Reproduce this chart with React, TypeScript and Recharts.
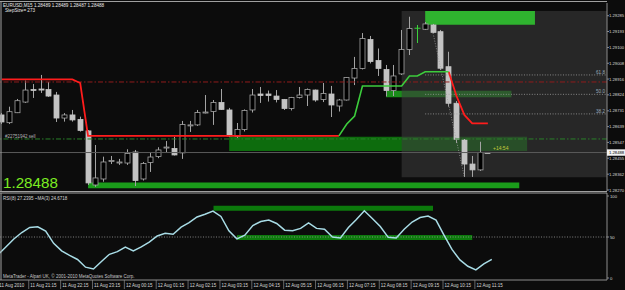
import React from 'react';
import {
  ComposedChart, Bar, Line, XAxis, YAxis, ReferenceArea, ReferenceLine,
} from 'recharts';

// EURUSD M15, one bar every 15 minutes from 11 Aug 20:15 to 12 Aug 11:45
const opens = [
  1.28707, 1.28662, 1.28720, 1.28782, 1.28855, 1.28858, 1.28855, 1.28823, 1.28689, 1.28707,
  1.28681, 1.28614, 1.28299, 1.28334, 1.28439, 1.28430, 1.28427, 1.28491, 1.28334, 1.28430,
  1.28465, 1.28518, 1.28512, 1.28486, 1.28646, 1.28649, 1.28721, 1.28727, 1.28780, 1.28736,
  1.28582, 1.28622, 1.28736, 1.28829, 1.28829, 1.28817, 1.28797, 1.28745, 1.28809, 1.28823,
  1.28852, 1.28797, 1.28829, 1.28759, 1.28794, 1.28922, 1.28978, 1.29146, 1.29024, 1.28972,
  1.28849, 1.28946, 1.29088, 1.29212, 1.29206, 1.29231, 1.29192, 1.28988, 1.28775, 1.28561,
  1.28421, 1.28387, 1.28489,
];
const highs = [
  1.28718, 1.28755, 1.28800, 1.28907, 1.28887, 1.28940, 1.28899, 1.28841, 1.28718, 1.28736,
  1.28697, 1.28619, 1.28532, 1.28464, 1.28468, 1.28451, 1.28507, 1.28503, 1.28433, 1.28486,
  1.28519, 1.28555, 1.28579, 1.28672, 1.28672, 1.28736, 1.28823, 1.28794, 1.28858, 1.28748,
  1.28660, 1.28739, 1.28858, 1.28870, 1.28849, 1.28852, 1.28800, 1.28812, 1.28870, 1.28861,
  1.28855, 1.28893, 1.28876, 1.28800, 1.28928, 1.29045, 1.29184, 1.29167, 1.29094, 1.28998,
  1.28998, 1.29202, 1.29279, 1.29231, 1.29248, 1.29237, 1.29202, 1.29075, 1.28788, 1.28567,
  1.28468, 1.28551, 1.28489,
];
const lows = [
  1.28654, 1.28654, 1.28718, 1.28777, 1.28806, 1.28835, 1.28812, 1.28666, 1.28668, 1.28668,
  1.28610, 1.28299, 1.28288, 1.28318, 1.28421, 1.28416, 1.28416, 1.28293, 1.28325, 1.28375,
  1.28455, 1.28491, 1.28471, 1.28451, 1.28608, 1.28643, 1.28716, 1.28649, 1.28736, 1.28579,
  1.28573, 1.28611, 1.28721, 1.28777, 1.28785, 1.28780, 1.28736, 1.28733, 1.28803, 1.28759,
  1.28784, 1.28782, 1.28695, 1.28727, 1.28791, 1.28881, 1.28972, 1.29007, 1.28934, 1.28815,
  1.28817, 1.28940, 1.29056, 1.29126, 1.29202, 1.29184, 1.28969, 1.28755, 1.28544, 1.28346,
  1.28346, 1.28381, 1.28487,
];
const closes = [
  1.28666, 1.28726, 1.28790, 1.28852, 1.28852, 1.28852, 1.28817, 1.28689, 1.28707, 1.28678,
  1.28617, 1.28311, 1.28340, 1.28433, 1.28442, 1.28433, 1.28483, 1.28325, 1.28424, 1.28462,
  1.28503, 1.28520, 1.28474, 1.28651, 1.28649, 1.28721, 1.28724, 1.28780, 1.28739, 1.28585,
  1.28622, 1.28733, 1.28823, 1.28820, 1.28820, 1.28797, 1.28745, 1.28809, 1.28823, 1.28855,
  1.28794, 1.28832, 1.28765, 1.28794, 1.28925, 1.28978, 1.29152, 1.29018, 1.28978, 1.28849,
  1.28934, 1.29088, 1.29210, 1.29212, 1.29237, 1.29188, 1.28979, 1.28775, 1.28565, 1.28421,
  1.28387, 1.28489, 1.28488,
];

// step indicator: red while falling, green while rising
const stepRed = [
  1.28914, 1.28914, 1.28914, 1.28914, 1.28914, 1.28914, 1.28914, 1.28914, 1.28914, 1.28914,
  1.28893, 1.28585, 1.28585, 1.28585, 1.28585, 1.28585, 1.28585, 1.28585, 1.28585, 1.28585,
  1.28585, 1.28585, 1.28585, 1.28585, 1.28585, 1.28585, 1.28585, 1.28585, 1.28585, 1.28585,
  1.28585, 1.28585, 1.28585, 1.28585, 1.28585, 1.28585, 1.28585, 1.28585, 1.28585, 1.28585,
  1.28585, 1.28585, 1.28585, 1.28585, null, null, null, null, null, null,
  null, null, null, null, null, null, null, 1.28959, 1.28817, 1.28707,
  1.28658, 1.28658, 1.28658,
];
const stepGreen = [
  null, null, null, null, null, null, null, null, null, null,
  null, null, null, null, null, null, null, null, null, null,
  null, null, null, null, null, null, null, null, null, null,
  null, null, null, null, null, null, null, null, null, null,
  null, null, null, 1.28585, 1.28654, 1.28701, 1.28876, 1.28876, 1.28876, 1.28876,
  1.28876, 1.28876, 1.28934, 1.28934, 1.28959, 1.28959, 1.28959, 1.28959, null, null,
  null, null, null,
];

const rsi = [
  28.2, 37.8, 47.6, 55.5, 61.6, 62.4, 57.3, 42.3, 33.2, 27.6,
  22.6, 13.2, 11.0, 20.2, 28.9, 32.2, 37.8, 32.9, 37.9, 43.7,
  51.2, 54.5, 53.3, 62.0, 67.4, 74.4, 77.8, 81.5, 75.1, 57.6,
  47.7, 52.3, 64.0, 68.9, 70.7, 66.5, 58.3, 57.7, 60.5, 67.2,
  60.5, 59.4, 50.0, 48.8, 61.6, 71.3, 82.0, 72.6, 62.8, 49.6,
  48.8, 59.4, 68.3, 73.8, 75.6, 70.7, 52.4, 34.8, 22.0, 14.3,
  9.8, 17.1, 22.8,
];

const timeLabels = [
  '11 Aug 2010', '11 Aug 21:15', '11 Aug 22:15', '11 Aug 23:15', '12 Aug 00:15', '12 Aug 01:15',
  '12 Aug 02:15', '12 Aug 03:15', '12 Aug 04:15', '12 Aug 05:15', '12 Aug 06:15', '12 Aug 07:15',
  '12 Aug 08:15', '12 Aug 09:15', '12 Aug 10:15', '12 Aug 11:15',
];
const priceTicks = [
  1.29285, 1.29193, 1.29100, 1.29008, 1.28916, 1.28824, 1.28731, 1.28639, 1.28547, 1.28455, 1.28362, 1.28270,
];
const rsiTicks = [0, 50, 100];

const bid = 1.28488;
const sellOrder = 1.28567;
const stopLine = 1.28899;

const fibLevels = [1.28940, 1.28827, 1.28713];
const fibNames = ['61.8', '50.0', '38.2'];
const fibFrom = 54;
const fibTrend = [{ x: 55, y: 1.29184 }, { x: 59, y: 1.28346 }];
const fibBox = { from: 51, lo: 1.28344, hi: 1.29312 };

const zoneTop = { from: 54, to: 68, lo: 1.29233, hi: 1.29312 };
const zoneMid = { from: 49, to: 65, lo: 1.28810, hi: 1.28848 };
const zoneSell = { from: 29, to: 67, lo: 1.28497, hi: 1.28580 };
const zoneLow = { from: 11, to: 66, lo: 1.28280, hi: 1.28313 };
const rsiHigh = { from: 27, to: 55, lo: 82.1, hi: 88.2 };
const rsiMid = { from: 30, to: 60, lo: 46.3, hi: 52.4 };

const X_END = 77.19;
const PRICE_DOMAIN = [1.28264, 1.29359];
const RSI_DOMAIN = [-2.44, 103.66];

const rows = opens.map((o, i) => ({
  i, o, h: highs[i], l: lows[i], c: closes[i],
  range: [lows[i], highs[i]],
  red: stepRed[i], green: stepGreen[i], rsi: rsi[i],
}));

const FONT = "'Liberation Sans', Arial, sans-serif";
const BG = '#0c0c0c';
const WICK = '#a4a4a4';
const BEAR = '#c4c4c4';
const DOJI = '#3cd03c';
const AXIS = '#8c8c8c';

const Candle = (props: any) => {
  const { x, y, width, height, payload } = props;
  if (!payload || height == null) return null;
  const { o, h, l, c } = payload;
  const cx = Math.round(x + width / 2) + 0.5;
  const top = Math.min(y, y + height);
  const span = Math.abs(height);
  const py = (v: number) => top + ((h - v) / (h - l)) * span;
  const yo = py(o);
  const yc = py(c);
  if (o === c) {
    return (
      <g>
        <line x1={cx} x2={cx} y1={top} y2={top + span} stroke={DOJI} />
        <line x1={cx - 3} x2={cx + 3} y1={yo} y2={yo} stroke={DOJI} />
      </g>
    );
  }
  const bull = c > o;
  const bt = Math.min(yo, yc);
  const bh = Math.max(Math.abs(yc - yo), 1);
  return (
    <g>
      <line x1={cx} x2={cx} y1={top} y2={top + span} stroke={WICK} />
      <rect x={cx - 2.5} y={bt} width={5} height={bh}
        fill={bull ? '#000' : BEAR} stroke={bull ? WICK : BEAR} strokeWidth={0.8} />
    </g>
  );
};

const PriceTick = (props: any) => {
  const { x, y, payload } = props;
  const v = payload.value;
  if (v === bid) {
    return (
      <g>
        <rect x={x - 2} y={y - 3.2} width={20} height={6.4} fill="#f2f2f2" />
        <text x={x} y={y + 1.6} fontSize={4.2} fill="#000" fontFamily={FONT}>{v.toFixed(5)}</text>
      </g>
    );
  }
  return <text x={x} y={y + 1.6} fontSize={4.2} fill="#d8d8d8" fontFamily={FONT}>{v.toFixed(5)}</text>;
};

const RsiTick = (props: any) => {
  const { x, y, payload } = props;
  return <text x={x + 1} y={y + 1.6} fontSize={4.2} fill="#d8d8d8" fontFamily={FONT}>{payload.value}</text>;
};

const TimeTick = (props: any) => {
  const { x, y, payload } = props;
  const label = timeLabels[payload.value / 4];
  if (label == null) return null;
  const first = payload.value === 0;
  return (
    <g>
      {!first && <line x1={x - 1} x2={x - 1} y1={y} y2={y + 9} stroke={AXIS} strokeWidth={0.7} />}
      <text x={first ? x + 1.4 : x + 0.6} y={y + 7.3} fontSize={4.5} fill="#d8d8d8" fontFamily={FONT}>{label}</text>
    </g>
  );
};

const SellLabel = (props: any) => {
  const { viewBox } = props;
  if (!viewBox) return null;
  return (
    <text x={viewBox.x + 7} y={viewBox.y - 1.2} fontSize={4.5} fill="#b4b4b4" fontFamily={FONT}>
      #22751942 sell
    </text>
  );
};

const FibLabel = (props: any) => {
  const { viewBox, text } = props;
  if (!viewBox) return null;
  return (
    <text x={viewBox.x + viewBox.width - 2} y={viewBox.y - 1.2} textAnchor="end"
      fontSize={4.6} fill="#96a8b8" fontFamily={FONT}>{text}</text>
  );
};

export default function App() {
  return (
    <div style={{ position: 'fixed', left: 0, top: 0, width: 625, height: 290, background: BG, overflow: 'hidden' }}>
      <div style={{ position: 'absolute', left: -4, top: 0 }}>
        <ComposedChart width={629} height={194} data={rows} barCategoryGap={0}
          margin={{ top: 3, right: 0, bottom: 3, left: 1.88 }}>
          <XAxis xAxisId="c" dataKey="i" type="category" hide padding={{ left: 0, right: 115.2 }} />
          <XAxis xAxisId="n" dataKey="i" type="number" hide domain={[-0.5, X_END]} allowDataOverflow />
          <YAxis yAxisId="p" orientation="right" width={18} type="number" domain={PRICE_DOMAIN}
            allowDataOverflow ticks={[...priceTicks, bid]} interval={0} tick={<PriceTick />}
            tickSize={2} tickMargin={0} tickLine={{ stroke: AXIS }} axisLine={{ stroke: AXIS }} />

          <ReferenceArea xAxisId="n" yAxisId="p" x1={zoneMid.from} x2={zoneMid.to} y1={zoneMid.lo} y2={zoneMid.hi}
            fill="#1a8c1a" fillOpacity={1} stroke="none" ifOverflow="visible" />
          <ReferenceArea xAxisId="n" yAxisId="p" x1={zoneSell.from} x2={zoneSell.to} y1={zoneSell.lo} y2={zoneSell.hi}
            fill="#0d6c0d" fillOpacity={1} stroke="none" ifOverflow="visible" />
          <ReferenceArea xAxisId="n" yAxisId="p" x1={fibBox.from} y1={fibBox.lo} y2={fibBox.hi}
            fill="#3a3a3a" fillOpacity={0.6} stroke="none" ifOverflow="visible" />
          <ReferenceArea xAxisId="n" yAxisId="p" x1={zoneTop.from} x2={zoneTop.to} y1={zoneTop.lo} y2={zoneTop.hi}
            fill="#2fb32f" fillOpacity={1} stroke="none" ifOverflow="visible" />
          <ReferenceArea xAxisId="n" yAxisId="p" x1={zoneLow.from} x2={zoneLow.to} y1={zoneLow.lo} y2={zoneLow.hi}
            fill="#1a9c1a" fillOpacity={1} stroke="none" ifOverflow="visible" />

          <ReferenceLine xAxisId="n" yAxisId="p" y={stopLine} stroke="#901c1c" strokeDasharray="5 2 1.5 2" />
          <ReferenceLine xAxisId="n" yAxisId="p" y={sellOrder} stroke="#2a802a" strokeDasharray="5 2 1.5 2"
            label={<SellLabel />} />
          <ReferenceLine xAxisId="n" yAxisId="p" y={bid} stroke="#5a5a5a" />
          {fibLevels.map((v, k) => (
            <ReferenceLine key={fibNames[k]} xAxisId="n" yAxisId="p" ifOverflow="visible"
              segment={[{ x: fibFrom, y: v }, { x: X_END, y: v }]}
              stroke="#a0a0a0" strokeDasharray="1 1.6" strokeWidth={0.8}
              label={<FibLabel text={fibNames[k]} />} />
          ))}
          <ReferenceLine xAxisId="n" yAxisId="p" ifOverflow="visible" segment={fibTrend}
            stroke="#a0a0a0" strokeDasharray="1 1.6" strokeWidth={0.8} />

          <Bar xAxisId="c" yAxisId="p" dataKey="range" barSize={8} isAnimationActive={false}
            shape={(p: any) => <Candle {...p} />} />

          <Line xAxisId="c" yAxisId="p" dataKey="red" stroke="#ff1c1c" strokeWidth={1.8} dot={false}
            activeDot={false} isAnimationActive={false} />
          <Line xAxisId="c" yAxisId="p" dataKey="green" stroke="#3ccc3c" strokeWidth={1.6} dot={false}
            activeDot={false} isAnimationActive={false} />
        </ComposedChart>
      </div>

      <div style={{ position: 'absolute', left: -4, top: 191 }}>
        <ComposedChart width={629} height={99} data={rows} margin={{ top: 2, right: 0, bottom: 0, left: 1.88 }}>
          <XAxis xAxisId="c" dataKey="i" type="category" height={10} padding={{ left: 0, right: 115.2 }}
            interval={3} tick={<TimeTick />} tickSize={0} tickMargin={0} tickLine={false}
            axisLine={{ stroke: AXIS }} />
          <XAxis xAxisId="n" dataKey="i" type="number" hide domain={[-0.5, X_END]} allowDataOverflow />
          <YAxis yAxisId="r" orientation="right" width={18} type="number" domain={RSI_DOMAIN}
            allowDataOverflow ticks={rsiTicks} interval={0} tick={<RsiTick />}
            tickSize={2} tickMargin={0} tickLine={{ stroke: AXIS }} axisLine={{ stroke: AXIS }} />

          <ReferenceArea xAxisId="n" yAxisId="r" x1={rsiHigh.from} x2={rsiHigh.to} y1={rsiHigh.lo} y2={rsiHigh.hi}
            fill="#0c7a0c" fillOpacity={1} stroke="none" ifOverflow="visible" />
          <ReferenceArea xAxisId="n" yAxisId="r" x1={rsiMid.from} x2={rsiMid.to} y1={rsiMid.lo} y2={rsiMid.hi}
            fill="#0c7a0c" fillOpacity={1} stroke="none" ifOverflow="visible" />
          <ReferenceLine xAxisId="n" yAxisId="r" y={50} stroke="#a0a0a0" strokeDasharray="1 1.6" strokeWidth={0.8} />

          <Line xAxisId="c" yAxisId="r" dataKey="rsi" stroke="#a8dce6" strokeWidth={1.5} dot={false}
            activeDot={false} isAnimationActive={false} />
        </ComposedChart>
      </div>

      <svg width={625} height={290} style={{ position: 'absolute', left: 0, top: 0, pointerEvents: 'none' }}
        fontFamily={FONT}>
        <line x1={0} x2={607} y1={1.5} y2={1.5} stroke="#a0a0a0" />
        <line x1={1} x2={1} y1={1.5} y2={191.5} stroke="#a0a0a0" />
        <line x1={0} x2={607} y1={191.5} y2={191.5} stroke="#a0a0a0" />
        <line x1={0} x2={607} y1={193} y2={193} stroke="#a0a0a0" />
        <line x1={1} x2={1} y1={193} y2={280} stroke="#a0a0a0" />

        <text x={3} y={7} fontSize={4.6} fill="#e8e8e8">EURUSD,M15  1.28489 1.28489 1.28487 1.28488</text>
        <text x={5} y={12.4} fontSize={4.6} fill="#e8e8e8">StepSize= 273</text>
        <text x={3} y={187.5} fontSize={15.2} fill="#7cec22">1.28488</text>
        <text x={493} y={149.6} fontSize={5} fill="#c4c83c">+14:54</text>
        <text x={3} y={199.5} fontSize={4.5} fill="#d8d8d8">RSI(8) 27.2395  ~MA(3) 24.6718</text>
        <text x={3} y={278.3} fontSize={4.5} fill="#c8c8c8">MetaTrader - Alpari UK, © 2001-2010 MetaQuotes Software Corp.</text>
      </svg>
    </div>
  );
}
